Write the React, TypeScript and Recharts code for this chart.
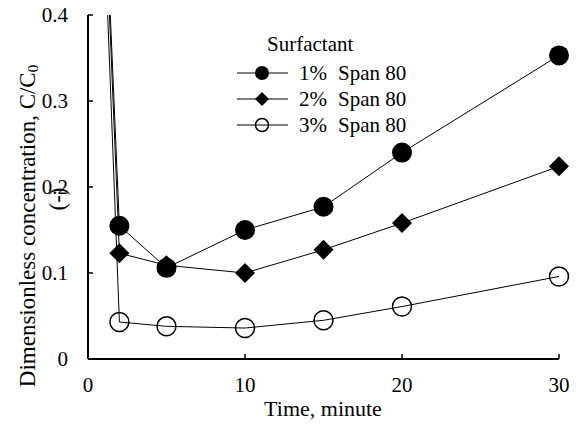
import { LineChart, Line, XAxis, YAxis, Legend } from "recharts";

const times = [0, 2, 5, 10, 15, 20, 30];
const span1 = [1, 0.155, 0.106, 0.15, 0.177, 0.24, 0.353];
const span2 = [1, 0.123, 0.109, 0.1, 0.127, 0.158, 0.224];
const span3 = [1, 0.043, 0.038, 0.036, 0.045, 0.061, 0.096];
const xTicks = [0, 10, 20, 30];
const yTicks = [0, 0.1, 0.2, 0.3, 0.4];
const legendLabels = ["1%", "2%", "3%"];

const data = times.map((t, i) => ({ t, s1: span1[i], s2: span2[i], s3: span3[i] }));

const FONT = "Liberation Serif";
const Y_MAX = 0.4;

type Shape = "circle" | "diamond" | "open";

function Marker({ cx, cy, shape, r }: { cx: number; cy: number; shape: Shape; r: number }) {
  if (shape === "circle") return <circle cx={cx} cy={cy} r={r} fill="#000" />;
  if (shape === "diamond")
    return (
      <polygon
        points={`${cx},${cy - r} ${cx + r},${cy} ${cx},${cy + r} ${cx - r},${cy}`}
        fill="#000"
      />
    );
  return <circle cx={cx} cy={cy} r={r - 0.5} fill="none" stroke="#000" strokeWidth={1.5} />;
}

const makeDot = (shape: Shape) => (props: any) => {
  const { cx, cy, value, index } = props;
  if (value == null || value > Y_MAX) return <g key={index} />;
  return <Marker key={index} cx={cx} cy={cy} shape={shape} r={10} />;
};

const XTick = (props: any) => {
  const { x, y, payload } = props;
  return (
    <g>
      {payload.value !== 0 && <line x1={x} y1={y} x2={x} y2={y - 5} stroke="#000" strokeWidth={1.5} />}
      <text x={x} y={y + 33} textAnchor="middle" fontSize={21} fontFamily={FONT} fill="#000">
        {payload.value}
      </text>
    </g>
  );
};

const YTick = (props: any) => {
  const { x, y, payload } = props;
  return (
    <g>
      {payload.value !== 0 && <line x1={x} y1={y} x2={x + 5} y2={y} stroke="#000" strokeWidth={1.5} />}
      <text x={x - 20} y={y + 7} textAnchor="end" fontSize={21} fontFamily={FONT} fill="#000">
        {payload.value}
      </text>
    </g>
  );
};

const legendRows: { label: string; shape: Shape }[] = [
  { label: legendLabels[0], shape: "circle" },
  { label: legendLabels[1], shape: "diamond" },
  { label: legendLabels[2], shape: "open" },
];

const LegendBox = () => (
  <svg width={220} height={120} style={{ overflow: "visible" }}>
    <text x={37} y={23} fontSize={21} fontFamily={FONT} fill="#000">
      Surfactant
    </text>
    {legendRows.map((row, i) => {
      const cy = 45 + i * 26;
      return (
        <g key={row.label}>
          <line x1={7} y1={cy} x2={58} y2={cy} stroke="#000" strokeWidth={1} />
          <Marker cx={32} cy={cy} shape={row.shape} r={7} />
          <text x={69} y={cy + 7} fontSize={21} fontFamily={FONT} fill="#000">
            {row.label}
          </text>
          <text x={108} y={cy + 7} fontSize={21} fontFamily={FONT} fill="#000">
            Span 80
          </text>
        </g>
      );
    })}
  </svg>
);

export default function App() {
  return (
    <div style={{ position: "absolute", left: 0, top: 0, background: "#fff" }}>
      <LineChart
        width={576}
        height={429}
        data={data}
        margin={{ top: 15, right: 17, left: 0, bottom: 0 }}
        style={{ fontFamily: FONT }}
      >
        <XAxis
          dataKey="t"
          type="number"
          domain={[0, 30]}
          ticks={xTicks}
          height={70}
          axisLine={{ stroke: "#000", strokeWidth: 2 }}
          tickLine={false}
          tickSize={0}
          tickMargin={0}
          tick={<XTick />}
          label={{
            content: () => (
              <text x={323} y={416} textAnchor="middle" fontSize={22} fontFamily={FONT} fill="#000">
                Time, minute
              </text>
            ),
          }}
        />
        <YAxis
          type="number"
          domain={[0, Y_MAX]}
          allowDataOverflow
          ticks={yTicks}
          width={88}
          axisLine={{ stroke: "#000", strokeWidth: 2 }}
          tickLine={false}
          tickSize={0}
          tickMargin={0}
          tick={<YTick />}
          label={{
            content: () => (
              <g fontSize={23} fontFamily={FONT} fill="#000">
                <text x={27} y={226} textAnchor="middle" dominantBaseline="central" transform="rotate(-90 27 226)">
                  Dimensionless concentration, C/C
                  <tspan fontSize={15} dy={6}>0</tspan>
                </text>
                <text x={57} y={199} textAnchor="middle" dominantBaseline="central" transform="rotate(-90 57 199)">
                  (-)
                </text>
              </g>
            ),
          }}
        />
        <Legend
          layout="vertical"
          align="center"
          verticalAlign="middle"
          content={<LegendBox />}
          wrapperStyle={{ left: 230, top: 28, width: 220, height: 120 }}
        />
        <Line dataKey="s3" stroke="#000" strokeWidth={1} dot={makeDot("open")} activeDot={false} isAnimationActive={false} />
        <Line dataKey="s2" stroke="#000" strokeWidth={1} dot={makeDot("diamond")} activeDot={false} isAnimationActive={false} />
        <Line dataKey="s1" stroke="#000" strokeWidth={1} dot={makeDot("circle")} activeDot={false} isAnimationActive={false} />
      </LineChart>
    </div>
  );
}
